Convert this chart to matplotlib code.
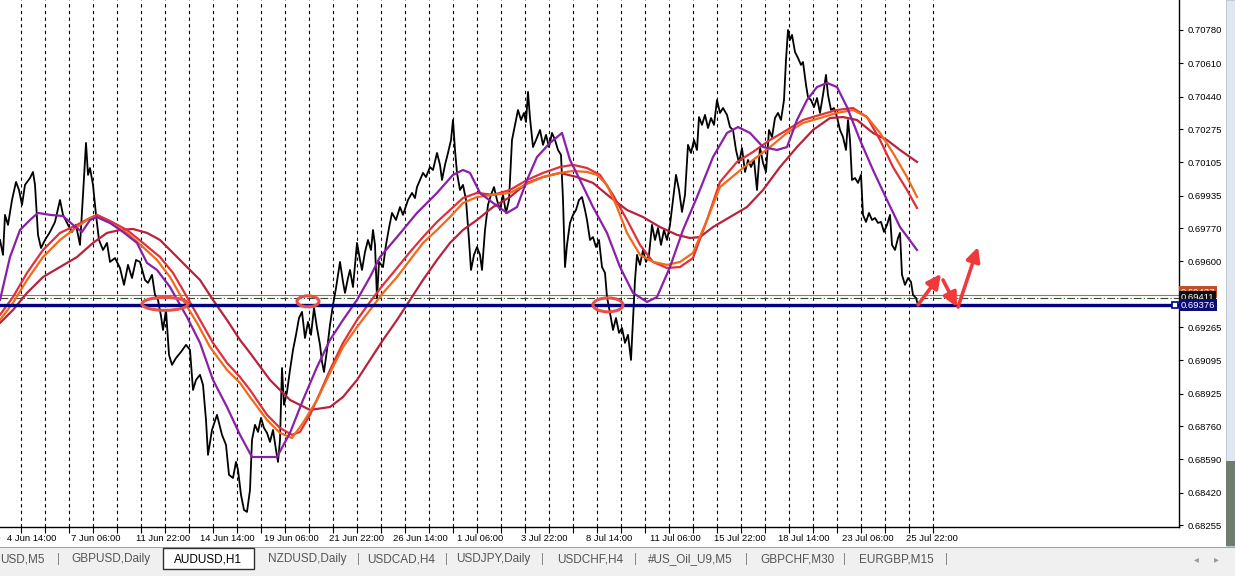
import numpy as np
import matplotlib.pyplot as plt
from matplotlib.patches import Ellipse, Rectangle
import matplotlib.transforms as mtransforms

plt.rcParams['font.family'] = ['Liberation Sans', 'DejaVu Sans']

# AUDUSD H1 close (bar index, price)
bars = [0, 3, 5, 8, 12, 16, 19, 22, 25, 30, 33, 35, 38, 41, 45, 50, 55, 60, 63, 68,
        72, 76, 80, 83, 86, 88, 90, 93, 96, 99, 103, 107, 110, 115, 120, 124, 128, 132, 136, 140,
        145, 148, 152, 155, 158, 161, 163, 166, 169, 172, 176, 181, 186, 190, 193, 196, 200, 203, 206, 208,
        212, 217, 222, 226, 229, 233, 236, 238, 241, 244, 247, 250, 252, 255, 258, 261, 264, 267, 270, 273,
        276, 278, 280, 282, 284, 287, 290, 293, 296, 299, 302, 305, 308, 311, 314, 317, 320, 322, 324, 327,
        330, 333, 336, 338, 340, 343, 345, 348, 350, 353, 355, 357, 360, 362, 365, 368, 371, 373, 375, 377,
        379, 383, 386, 389, 392, 396, 400, 403, 408, 412, 415, 417, 420, 423, 426, 430, 433, 437, 440, 442,
        445, 448, 451, 453, 455, 457, 460, 463, 466, 469, 471, 474, 477, 480, 482, 485, 488, 491, 494, 497,
        500, 503, 506, 509, 512, 515, 518, 521, 524, 526, 528, 530, 533, 536, 540, 543, 546, 549, 552, 555,
        558, 561, 563, 565, 567, 570, 573, 576, 579, 582, 585, 587, 590, 593, 596, 599, 602, 605, 607, 610,
        613, 616, 619, 622, 625, 628, 631, 633, 635, 637, 640, 643, 646, 649, 652, 655, 658, 661, 664, 667,
        670, 673, 676, 679, 682, 685, 688, 691, 694, 697, 699, 702, 705, 708, 711, 714, 717, 720, 723, 727,
        730, 733, 736, 739, 742, 745, 748, 751, 754, 757, 760, 763, 766, 769, 772, 775, 778, 781, 784, 786,
        788, 790, 792, 795, 798, 801, 803, 806, 808, 811, 814, 817, 820, 823, 826, 828, 831, 834, 837, 840,
        843, 846, 848, 850, 852, 855, 858, 861, 863, 866, 869, 872, 875, 878, 881, 884, 887, 890, 892, 895,
        898, 900, 902, 905, 908, 911, 913, 916, 918]
close = [0.69709, 0.69633, 0.69837, 0.69786, 0.69913, 0.70005, 0.69964, 0.69888, 0.69990, 0.70025,
         0.70056, 0.69990, 0.69735, 0.69668, 0.69709, 0.69750, 0.69801, 0.69913, 0.69837, 0.69786,
         0.69750, 0.69786, 0.69684, 0.69939, 0.70204, 0.70041, 0.70076, 0.69990, 0.69837, 0.69709,
         0.69658, 0.69694, 0.69597, 0.69617, 0.69566, 0.69480, 0.69582, 0.69515, 0.69607, 0.69597,
         0.69505, 0.69490, 0.69531, 0.69429, 0.69403, 0.69321, 0.69250, 0.69352, 0.69123, 0.69072,
         0.69107, 0.69138, 0.69174, 0.69148, 0.68944, 0.68995, 0.69021, 0.68970, 0.68791, 0.68613,
         0.68740, 0.68817, 0.68715, 0.68664, 0.68511, 0.68495, 0.68577, 0.68536, 0.68409, 0.68332,
         0.68322, 0.68434, 0.68689, 0.68766, 0.68730, 0.68801, 0.68750, 0.68725, 0.68679, 0.68740,
         0.68638, 0.68577, 0.68689, 0.69056, 0.68868, 0.68934, 0.69046, 0.69148, 0.69225, 0.69311,
         0.69342, 0.69209, 0.69291, 0.69225, 0.69362, 0.69260, 0.69174, 0.69087, 0.69036, 0.69148,
         0.69276, 0.69378, 0.69464, 0.69531, 0.69597, 0.69495, 0.69439, 0.69515, 0.69556, 0.69469,
         0.69582, 0.69694, 0.69607, 0.69556, 0.69648, 0.69709, 0.69658, 0.69760, 0.69684, 0.69413,
         0.69597, 0.69571, 0.69684, 0.69770, 0.69847, 0.69811, 0.69877, 0.69837, 0.69913, 0.69949,
         0.69923, 0.69979, 0.70015, 0.70051, 0.70030, 0.70081, 0.70066, 0.70153, 0.70092, 0.70015,
         0.70092, 0.70153, 0.70219, 0.70321, 0.70168, 0.70051, 0.69964, 0.69990, 0.69913, 0.69709,
         0.69556, 0.69633, 0.69673, 0.69633, 0.69556, 0.69760, 0.69888, 0.69939, 0.69979, 0.69913,
         0.69862, 0.69939, 0.69847, 0.69913, 0.70219, 0.70296, 0.70372, 0.70321, 0.70357, 0.70311,
         0.70464, 0.70331, 0.70183, 0.70219, 0.70270, 0.70194, 0.70245, 0.70183, 0.70255, 0.70219,
         0.70168, 0.70143, 0.69913, 0.69571, 0.69684, 0.69796, 0.69837, 0.69862, 0.69913, 0.69928,
         0.69862, 0.69811, 0.69709, 0.69724, 0.69673, 0.69709, 0.69571, 0.69541, 0.69418, 0.69337,
         0.69250, 0.69311, 0.69235, 0.69260, 0.69184, 0.69225, 0.69097, 0.69301, 0.69505, 0.69633,
         0.69582, 0.69658, 0.69597, 0.69633, 0.69786, 0.69709, 0.69770, 0.69684, 0.69760, 0.69709,
         0.69786, 0.69913, 0.70041, 0.69964, 0.69852, 0.69939, 0.70194, 0.70153, 0.70219, 0.70168,
         0.70336, 0.70296, 0.70347, 0.70280, 0.70331, 0.70296, 0.70423, 0.70357, 0.70382, 0.70347,
         0.70285, 0.70270, 0.70168, 0.70102, 0.70178, 0.70056, 0.70117, 0.70081, 0.70117, 0.69964,
         0.70183, 0.70102, 0.70056, 0.70270, 0.70234, 0.70331, 0.70357, 0.70321, 0.70423, 0.70627,
         0.70780, 0.70729, 0.70755, 0.70668, 0.70637, 0.70602, 0.70617, 0.70500, 0.70438, 0.70423,
         0.70387, 0.70433, 0.70357, 0.70449, 0.70551, 0.70449, 0.70372, 0.70382, 0.70336, 0.70270,
         0.70234, 0.70168, 0.70321, 0.70219, 0.70015, 0.70025, 0.70000, 0.70041, 0.69837, 0.69801,
         0.69847, 0.69811, 0.69821, 0.69796, 0.69801, 0.69750, 0.69786, 0.69837, 0.69684, 0.69658,
         0.69719, 0.69745, 0.69531, 0.69480, 0.69515, 0.69495, 0.69429, 0.69413, 0.69378]

# moving averages (bar index, value)
ma1_x = [0, 10, 20, 30, 38, 50, 63, 73, 82, 90, 97, 110, 123, 137, 147, 157, 170, 187, 200, 213,
         227, 240, 252, 277, 290, 303, 317, 330, 343, 357, 370, 380, 397, 417, 437, 453, 463, 470, 480, 493,
         507, 517, 527, 537, 550, 562, 570, 580, 593, 607, 620, 633, 647, 657, 670, 683, 697, 713, 727, 738,
         750, 763, 777, 787, 797, 807, 817, 827, 837, 847, 860, 873, 887, 900, 917]
ma1_y = [0.69403, 0.69622, 0.69760, 0.69811, 0.69847, 0.69837, 0.69831, 0.69786, 0.69750, 0.69811,
         0.69826, 0.69796, 0.69750, 0.69694, 0.69592, 0.69556, 0.69469, 0.69316, 0.69184, 0.68995,
         0.68857, 0.68715, 0.68602, 0.68602, 0.68725, 0.68893, 0.69061, 0.69199, 0.69301, 0.69403,
         0.69520, 0.69622, 0.69724, 0.69847, 0.69949, 0.70041, 0.70066, 0.70051, 0.69949, 0.69898,
         0.69847, 0.69877, 0.70015, 0.70132, 0.70204, 0.70255, 0.70117, 0.70015, 0.69877, 0.69745,
         0.69571, 0.69439, 0.69393, 0.69418, 0.69571, 0.69760, 0.69928, 0.70132, 0.70255, 0.70285,
         0.70255, 0.70183, 0.70168, 0.70183, 0.70321, 0.70423, 0.70489, 0.70510, 0.70489, 0.70387,
         0.70219, 0.70066, 0.69913, 0.69775, 0.69658]

ma2_x = [0, 13, 27, 43, 60, 77, 90, 97, 110, 127, 143, 157, 170, 183, 197, 210, 227, 240, 250, 267,
         280, 292, 303, 317, 330, 343, 357, 370, 383, 397, 410, 423, 437, 450, 463, 477, 493, 510, 527, 543,
         560, 573, 587, 597, 607, 617, 627, 640, 653, 667, 680, 693, 707, 720, 737, 753, 770, 787, 803, 820,
         837, 853, 867, 880, 893, 907, 917]
ma2_y = [0.69301, 0.69388, 0.69505, 0.69622, 0.69709, 0.69775, 0.69821, 0.69826, 0.69796, 0.69745,
         0.69673, 0.69607, 0.69520, 0.69403, 0.69286, 0.69163, 0.69046, 0.68980, 0.68908, 0.68791,
         0.68725, 0.68699, 0.68776, 0.68893, 0.69031, 0.69163, 0.69265, 0.69352, 0.69439, 0.69520,
         0.69607, 0.69694, 0.69760, 0.69826, 0.69898, 0.69928, 0.69939, 0.69949, 0.69995, 0.70030,
         0.70051, 0.70061, 0.70056, 0.70041, 0.69990, 0.69877, 0.69745, 0.69633, 0.69597, 0.69582,
         0.69597, 0.69643, 0.69811, 0.69979, 0.70051, 0.70117, 0.70183, 0.70255, 0.70306, 0.70331,
         0.70357, 0.70372, 0.70336, 0.70255, 0.70153, 0.70030, 0.69928]

ma3_x = [0, 13, 27, 43, 60, 77, 90, 97, 110, 127, 143, 160, 173, 187, 200, 213, 227, 240, 250, 267,
         280, 292, 300, 310, 320, 330, 343, 357, 370, 383, 397, 410, 423, 437, 450, 463, 477, 493, 510, 527,
         543, 560, 573, 587, 600, 613, 627, 640, 653, 667, 680, 693, 707, 720, 737, 753, 770, 787, 803, 820,
         837, 853, 867, 880, 893, 907, 917]
ma3_y = [0.69327, 0.69418, 0.69541, 0.69658, 0.69745, 0.69786, 0.69821, 0.69837, 0.69806, 0.69760,
         0.69694, 0.69622, 0.69541, 0.69418, 0.69301, 0.69184, 0.69082, 0.69010, 0.68944, 0.68817,
         0.68750, 0.68715, 0.68730, 0.68817, 0.68929, 0.69046, 0.69184, 0.69301, 0.69393, 0.69480,
         0.69566, 0.69648, 0.69724, 0.69801, 0.69862, 0.69923, 0.69949, 0.69939, 0.69964, 0.70015,
         0.70051, 0.70081, 0.70092, 0.70076, 0.70041, 0.69939, 0.69811, 0.69684, 0.69597, 0.69566,
         0.69571, 0.69617, 0.69811, 0.70005, 0.70107, 0.70158, 0.70219, 0.70270, 0.70321, 0.70347,
         0.70372, 0.70382, 0.70336, 0.70219, 0.70081, 0.69964, 0.69872]

ma4_x = [0, 13, 27, 43, 60, 77, 93, 107, 120, 133, 147, 160, 173, 187, 200, 213, 227, 240, 250, 270,
         290, 310, 330, 343, 357, 370, 383, 397, 410, 423, 437, 450, 463, 477, 493, 510, 527, 543, 560, 577,
         593, 610, 627, 643, 660, 677, 690, 700, 713, 730, 747, 763, 780, 797, 813, 830, 843, 857, 873, 887,
         900, 917]
ma4_y = [0.69286, 0.69352, 0.69439, 0.69520, 0.69571, 0.69622, 0.69694, 0.69745, 0.69760, 0.69765,
         0.69745, 0.69709, 0.69643, 0.69571, 0.69505, 0.69403, 0.69301, 0.69199, 0.69133, 0.68995,
         0.68893, 0.68842, 0.68857, 0.68908, 0.68995, 0.69097, 0.69199, 0.69301, 0.69403, 0.69505,
         0.69607, 0.69694, 0.69760, 0.69811, 0.69877, 0.69928, 0.70000, 0.70030, 0.70051, 0.70030,
         0.70000, 0.69928, 0.69862, 0.69826, 0.69775, 0.69735, 0.69719, 0.69724, 0.69775, 0.69826,
         0.69877, 0.69964, 0.70081, 0.70183, 0.70270, 0.70331, 0.70336, 0.70321, 0.70255, 0.70219,
         0.70168, 0.70107]

# horizontal levels
level_blue = 0.69376
level_dash = 0.69411
level_orange = 0.69427

# day separators (24 H1 bars), x labels
day_sep = np.arange(21, 940, 24)
label_pos = [-57, 7, 71, 136, 200, 264, 329, 393, 457, 521, 586, 650, 714, 778, 842, 906]
label_txt = ['30 May 22:00', '4 Jun 14:00', '7 Jun 06:00', '11 Jun 22:00', '14 Jun 14:00',
             '19 Jun 06:00', '21 Jun 22:00', '26 Jun 14:00', '1 Jul 06:00', '3 Jul 22:00',
             '8 Jul 14:00', '11 Jul 06:00', '15 Jul 22:00', '18 Jul 14:00', '23 Jul 06:00',
             '25 Jul 22:00']
yticks = [0.70780, 0.70610, 0.70440, 0.70275, 0.70105, 0.69935, 0.69770, 0.69600,
          0.69265, 0.69095, 0.68925, 0.68760, 0.68590, 0.68420, 0.68255]

# tabs: text, center px
tabs = ['GBPUSD,Daily', 'AUDUSD,H1', 'NZDUSD,Daily', 'USDCAD,H4', 'USDJPY,Daily',
        'USDCHF,H4', '#US_Oil_U9,M5', 'GBPCHF,M30', 'EURGBP,M15']
tab_x = [111, 208, 307, 401, 493, 590, 690, 797, 896]
tab_sep = [59, 359, 446, 543, 636, 746, 845, 947]

W, H = 1235, 576
fig = plt.figure(figsize=(W / 100, H / 100), dpi=100)
ax = fig.add_axes([0, 49 / H, 1179 / W, 527 / H])
ax.set_xlim(0, 1179)
ax.set_ylim(0.68245, 0.70933)

for s in ['left', 'top']:
    ax.spines[s].set_visible(False)
for s in ['right', 'bottom']:
    ax.spines[s].set_linewidth(1.0)

ax.vlines(day_sep, 0.68245, 0.70933, colors='black', linestyles=(0, (3, 3)), lw=0.8, zorder=1)

ax.plot(bars, close, color='black', lw=1.3, zorder=3)

ax.plot(ma4_x, ma4_y, color='#b8223c', lw=1.6, zorder=4)
ax.plot(ma3_x, ma3_y, color='#e0303a', lw=1.6, zorder=4)
ax.plot(ma2_x, ma2_y, color='#f06a1a', lw=1.6, zorder=4)
ax.plot(ma1_x, ma1_y, color='#8a1fa8', lw=1.6, zorder=5)

ax.axhline(level_orange, color='#c8643c', lw=0.8, zorder=2)
ax.axhline(level_dash, color='#2f4a2f', lw=0.8, ls=(0, (7, 2, 1, 2)), zorder=2)
ax.axhline(level_blue, color='#000080', lw=2.4, zorder=6)
ax.plot([1175], [level_blue], marker='s', ms=4, mfc='white', mec='#000080', mew=1.2,
        zorder=7, clip_on=False)

# marked touches
for cx, cy, w, h in [(165, 0.69383, 46, 0.00066), (308, 0.69396, 22, 0.00056),
                     (608, 0.69378, 30, 0.00071)]:
    ax.add_patch(Ellipse((cx, cy), w, h, fill=False, ec='#e8504a', lw=2.2, zorder=8))

# expected moves
for (x0, y0), (x1, y1) in [((918, 0.69378), (941, 0.69536)),
                           ((943, 0.69505), (957, 0.69367)),
                           ((958, 0.69367), (978, 0.69673))]:
    ax.annotate('', xy=(x1, y1), xytext=(x0, y0),
                arrowprops=dict(arrowstyle='-|>,head_length=0.7,head_width=0.35',
                                color='#f03a3a', lw=2.6, shrinkA=0, shrinkB=0,
                                mutation_scale=12), zorder=9)

ax.yaxis.tick_right()
ax.set_yticks(yticks)
ax.set_yticklabels(['%.5f' % v for v in yticks])
ax.tick_params(axis='y', direction='out', length=3, width=0.8, pad=3, labelsize=6.8)
ax.set_xticks(day_sep)
ax.set_xticklabels([])
ax.tick_params(axis='x', direction='out', length=4, width=0.8)

trans = mtransforms.blended_transform_factory(ax.transData, ax.transAxes)
for p, t in zip(label_pos, label_txt):
    ax.text(p, -0.022, t, transform=trans, ha='left', va='center', fontsize=6.8, clip_on=False)

# price boxes on the right scale
transy = mtransforms.blended_transform_factory(ax.transAxes, ax.transData)
for val, fc, dy in [(level_orange, '#c0502a', 0.00016), (level_dash, '#101010', 0.00004),
                    (level_blue, '#0c0c78', 0.0)]:
    ax.text(1.0015, val + dy, '%.5f' % val, transform=transy, ha='left', va='center',
            fontsize=6.8, color='white', clip_on=False, zorder=10,
            bbox=dict(boxstyle='square,pad=0.18', fc=fc, ec='none'))

# scrollbar and tab strip
fig.patches.append(Rectangle((1226 / W, 30 / H), 9 / W, 1 - 30 / H, transform=fig.transFigure,
                             fc='#dfe7f0', ec='#b8c4d0', lw=0.6))
fig.patches.append(Rectangle((1226 / W, 30 / H), 9 / W, 85 / H, transform=fig.transFigure,
                             fc='#6f7d70', ec='none'))
fig.patches.append(Rectangle((0, 0), 1, 28 / H, transform=fig.transFigure,
                             fc='#f0f0f0', ec='none'))
fig.patches.append(Rectangle((0, 28 / H), 1, 0.8 / H, transform=fig.transFigure,
                             fc='#a0a0a0', ec='none'))
fig.patches.append(Rectangle((163 / W, 7 / H), 91 / W, 21 / H, transform=fig.transFigure,
                             fc='white', ec='#303030', lw=1.0))
fig.text(45 / W, 17 / H, 'USD,M5', ha='right', va='center', fontsize=8.5, color='#555555')
for t, x in zip(tabs, tab_x):
    col = 'black' if t == 'AUDUSD,H1' else '#555555'
    fig.text(x / W, 17 / H, t, ha='center', va='center', fontsize=8.5, color=col)
for x in tab_sep:
    fig.text(x / W, 17 / H, '|', ha='center', va='center', fontsize=8.5, color='#888888')
fig.text(1196 / W, 17 / H, '\u25c2', ha='center', va='center', fontsize=7, color='#999999')
fig.text(1216 / W, 17 / H, '\u25b8', ha='center', va='center', fontsize=7, color='#999999')

fig.savefig('out.png', dpi=100)
